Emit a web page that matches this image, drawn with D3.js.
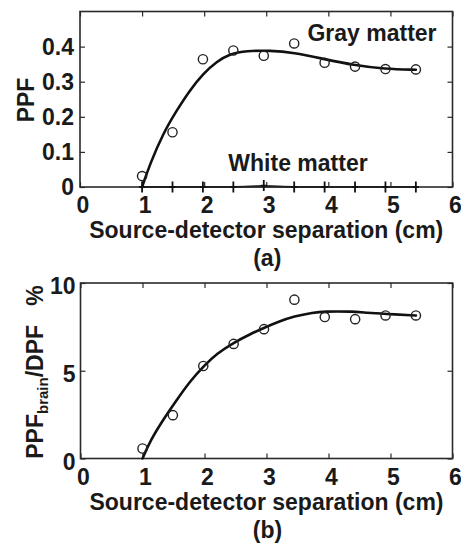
<!DOCTYPE html>
<html>
<head>
<meta charset="utf-8">
<script src="https://cdn.jsdelivr.net/npm/d3@7"></script>
<style>
  body { margin: 0; background: #fff; }
  text { font-family: "Liberation Sans", Arial, sans-serif; font-weight: bold; fill: #1a1a1a; }
</style>
</head>
<body>
<svg id="chart" width="461" height="543"></svg>
<script>
// measured source-detector separations (cm)
var sepX = [1.0, 1.49, 1.98, 2.47, 2.96, 3.45, 3.94, 4.43, 4.92, 5.41];

// panel (a): PPF
var grayPPF = [0.031, 0.156, 0.364, 0.389, 0.374, 0.409, 0.354, 0.343, 0.336, 0.335];
var whitePPF = [0, 0, 0, 0, 0.004, 0, 0, 0, 0, 0];
var grayFitX = [1.0, 1.13, 1.34, 1.56, 1.77, 1.99, 2.2, 2.42, 2.68, 3.06, 3.44, 3.92, 4.41, 4.91, 5.41];
var grayFitY = [0, 0.067, 0.153, 0.219, 0.276, 0.324, 0.357, 0.38, 0.388, 0.389, 0.383, 0.365, 0.347, 0.336, 0.334];

// panel (b): PPF_brain / DPF (%)
var ratioPct = [0.57, 2.47, 5.27, 6.53, 7.37, 9.05, 8.06, 7.94, 8.15, 8.15];
var ratioFitX = [1.0, 1.13, 1.34, 1.56, 1.77, 1.99, 2.2, 2.47, 2.74, 2.95, 3.2, 3.44, 3.76, 3.92, 4.38, 4.62, 4.91, 5.41];
var ratioFitY = [0, 1.05, 2.25, 3.38, 4.42, 5.28, 5.98, 6.6, 7.09, 7.43, 7.8, 8.1, 8.32, 8.38, 8.38, 8.3, 8.24, 8.15];

var xTicks = [0, 1, 2, 3, 4, 5, 6];
var yTicksA = [0, 0.1, 0.2, 0.3, 0.4];
var yTicksB = [0, 5, 10];

var svg = d3.select("#chart");
var ink = "#2a2a2a";

function styleTicks(a) {
  a.selectAll("line").attr("stroke", ink).attr("stroke-width", 1.2);
  a.select(".domain").remove();
}

function panel(opt) {
  var x = d3.scaleLinear().domain([0, 6]).range([opt.left, opt.right]);
  var y = d3.scaleLinear().domain(opt.yDomain).range([opt.bottom, opt.top]);
  var g = svg.append("g");

  // inside ticks on all four sides (MATLAB box style)
  g.append("g").attr("transform", "translate(0," + opt.bottom + ")")
    .call(d3.axisBottom(x).tickValues(xTicks).tickSize(-5).tickFormat("")).call(styleTicks);
  g.append("g").attr("transform", "translate(0," + opt.top + ")")
    .call(d3.axisTop(x).tickValues(xTicks).tickSize(-5).tickFormat("")).call(styleTicks);
  g.append("g").attr("transform", "translate(" + opt.left + ",0)")
    .call(d3.axisLeft(y).tickValues(opt.yTicks).tickSize(-5).tickFormat("")).call(styleTicks);
  g.append("g").attr("transform", "translate(" + opt.right + ",0)")
    .call(d3.axisRight(y).tickValues(opt.yTicks).tickSize(-5).tickFormat("")).call(styleTicks);

  g.append("rect")
    .attr("x", opt.left).attr("y", opt.top)
    .attr("width", opt.right - opt.left).attr("height", opt.bottom - opt.top)
    .attr("fill", "none").attr("stroke", ink).attr("stroke-width", 1.6);

  // tick labels
  g.selectAll(".xl").data(xTicks).enter().append("text")
    .attr("x", function (d) { return x(d) + 3; })
    .attr("y", opt.bottom + 26)
    .attr("text-anchor", "middle").attr("font-size", 23)
    .text(function (d) { return d; });
  g.selectAll(".yl").data(opt.yTicks).enter().append("text")
    .attr("x", opt.left - opt.yLabelDx)
    .attr("y", function (d) { return y(d) + opt.yLabelDy; })
    .attr("text-anchor", "end").attr("font-size", 23)
    .text(opt.yFormat);

  g.append("text")
    .attr("x", (opt.left + opt.right) / 2).attr("y", opt.bottom + 51)
    .attr("text-anchor", "middle").attr("font-size", 23)
    .text("Source-detector separation (cm)");
  g.append("text")
    .attr("x", (opt.left + opt.right) / 2 + 1).attr("y", opt.bottom + 79)
    .attr("text-anchor", "middle").attr("font-size", 23)
    .text(opt.caption);

  return { g: g, x: x, y: y };
}

function fitLine(p, xs, ys, w) {
  var pts = xs.map(function (d, i) { return [d, ys[i]]; });
  p.g.append("path")
    .datum(pts)
    .attr("fill", "none").attr("stroke", "#111").attr("stroke-width", w)
    .attr("stroke-linejoin", "round").attr("stroke-linecap", "round")
    .attr("d", d3.line().curve(d3.curveBasis)
      .x(function (d) { return p.x(d[0]); })
      .y(function (d) { return p.y(d[1]); }));
}

function circles(p, ys) {
  p.g.selectAll(".pt").data(ys).enter().append("circle")
    .attr("cx", function (d, i) { return p.x(sepX[i]); })
    .attr("cy", function (d) { return p.y(d); })
    .attr("r", 4.6)
    .attr("fill", "none").attr("stroke", "#222").attr("stroke-width", 1.4);
}

// ---- panel (a)
var a = panel({ left: 80, right: 452.5, top: 11.5, bottom: 187, yDomain: [0, 0.5], yTicks: yTicksA,
  yFormat: function (d) { return d === 0 ? "0" : d3.format(".1f")(d); }, yLabelDx: 6, yLabelDy: 8, caption: "(a)" });

// white matter line with + markers
var wLine = d3.line().x(function (d) { return a.x(d[0]); }).y(function (d) { return a.y(d[1]); });
a.g.append("path")
  .datum(sepX.map(function (d, i) { return [d, whitePPF[i]]; }))
  .attr("fill", "none").attr("stroke", "#444").attr("stroke-width", 1)
  .attr("d", wLine);
a.g.append("path")
  .datum(sepX.map(function (d, i) { return [d, whitePPF[i] / 2]; }))
  .attr("fill", "none").attr("stroke", "#222").attr("stroke-width", 2)
  .attr("d", wLine);
a.g.selectAll(".plus").data(whitePPF).enter().append("path")
  .attr("class", "plus")
  .attr("transform", function (d, i) { return "translate(" + a.x(sepX[i]) + "," + a.y(d) + ")"; })
  .attr("d", "M0,-5.5V5.5M-3,0H3")
  .attr("fill", "none").attr("stroke", "#111").attr("stroke-width", 1.8);

fitLine(a, grayFitX, grayFitY, 2.6);
circles(a, grayPPF);

a.g.append("text").attr("x", 372).attr("y", 41).attr("text-anchor", "middle").attr("font-size", 23).text("Gray matter");
a.g.append("text").attr("x", 298).attr("y", 171).attr("text-anchor", "middle").attr("font-size", 23).text("White matter");

a.g.append("text")
  .attr("transform", "translate(34," + 100 + ") rotate(-90)")
  .attr("text-anchor", "middle").attr("font-size", 23)
  .text("PPF");

// ---- panel (b)
var b = panel({ left: 80.5, right: 452.5, top: 283, bottom: 458.5, yDomain: [0, 10], yTicks: yTicksB,
  yFormat: function (d) { return d; }, yLabelDx: 5, yLabelDy: 11, caption: "(b)" });

fitLine(b, ratioFitX, ratioFitY, 2.6);
circles(b, ratioPct);

var yl = b.g.append("text")
  .attr("transform", "translate(43," + 372 + ") rotate(-90)")
  .attr("text-anchor", "middle").attr("font-size", 23);
yl.append("tspan").text("PPF");
yl.append("tspan").attr("font-size", 15).attr("dy", 5).text("brain");
yl.append("tspan").attr("dy", -5).text("/DPF\u00a0\u00a0 %");
</script>
</body>
</html>
